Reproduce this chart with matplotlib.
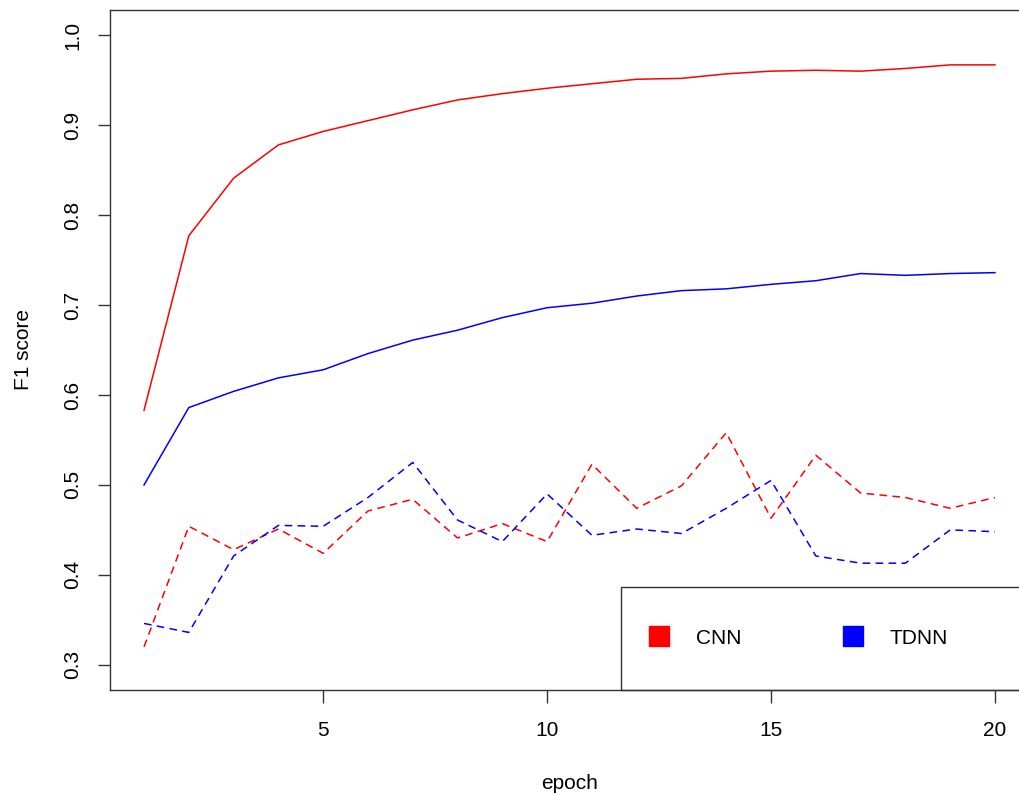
import matplotlib
matplotlib.use("Agg")
import matplotlib.pyplot as plt
from matplotlib.lines import Line2D
from matplotlib.patches import Rectangle

plt.rcParams['font.family'] = ['Liberation Sans', 'DejaVu Sans']

epochs = list(range(1, 21))
cnn_train = [0.583, 0.777, 0.841, 0.878, 0.893, 0.905, 0.917, 0.928, 0.935, 0.941,
             0.946, 0.951, 0.952, 0.957, 0.960, 0.961, 0.960, 0.963, 0.967, 0.967]
tdnn_train = [0.500, 0.586, 0.604, 0.619, 0.628, 0.646, 0.661, 0.672, 0.686, 0.697,
              0.702, 0.710, 0.716, 0.718, 0.723, 0.727, 0.735, 0.733, 0.735, 0.736]
cnn_test = [0.320, 0.454, 0.428, 0.451, 0.424, 0.471, 0.484, 0.441, 0.457, 0.437,
            0.523, 0.474, 0.499, 0.558, 0.463, 0.533, 0.491, 0.486, 0.474, 0.486]
tdnn_test = [0.346, 0.336, 0.421, 0.455, 0.454, 0.486, 0.525, 0.461, 0.437, 0.490,
             0.444, 0.451, 0.446, 0.474, 0.505, 0.421, 0.413, 0.413, 0.450, 0.448]
legend_labels = ["CNN", "TDNN"]
colors = ["red", "blue"]
x_ticks = [5, 10, 15, 20]
y_ticks = [0.3, 0.4, 0.5, 0.6, 0.7, 0.8, 0.9, 1.0]

FS = 15
W, H = 1020, 795
fig = plt.figure(figsize=(W / 100, H / 100), dpi=100)
L, R, T, B = 110, 1029, 10, 690
ax = fig.add_axes([L / W, 1 - B / H, (R - L) / W, (B - T) / H])

dash = (5, 3.5)
ax.plot(epochs, cnn_train, color=colors[0], lw=1.1)
ax.plot(epochs, tdnn_train, color=colors[1], lw=1.1)
ax.plot(epochs, cnn_test, color=colors[0], lw=1.1, linestyle=(0, dash))
ax.plot(epochs, tdnn_test, color=colors[1], lw=1.1, linestyle=(0, dash))

ax.set_xlim(0.24, 20.76)
ax.set_ylim(0.272, 1.028)
ax.set_xticks(x_ticks)
ax.set_xticklabels([str(t) for t in x_ticks])
ax.set_yticks(y_ticks)
ax.set_yticklabels([f"{t:.1f}" for t in y_ticks], rotation=90, va='center')
ax.tick_params(axis='both', direction='out', length=9, width=1, color='#333333',
               labelsize=FS)
ax.tick_params(axis='x', pad=13)
ax.tick_params(axis='y', pad=11)
for s in ax.spines.values():
    s.set_color('#333333')
    s.set_linewidth(1.0)

ax.set_xlabel("epoch", fontsize=FS, labelpad=25)
ax.set_ylabel("F1 score", fontsize=FS, labelpad=22)

# legend frame
lx0 = (621 - L) / (R - L)
ly1 = (B - 587) / (B - T)
ax.add_patch(Rectangle((lx0, 0), 1.0, ly1, transform=ax.transAxes, fill=False,
                       edgecolor='#333333', lw=1.0, clip_on=False, zorder=5))
handles = [Line2D([], [], linestyle='none', marker='s', markersize=14.5,
                  markerfacecolor=c, markeredgecolor=c) for c in colors]
ax.legend(handles, legend_labels, ncol=2, frameon=False, fontsize=FS,
          loc='center left', bbox_to_anchor=((649 - L) / (R - L), (B - 638) / (B - T)),
          borderpad=0, handlelength=1.0, handletextpad=1.25, columnspacing=4.85,
          borderaxespad=0)

fig.savefig("out.png", dpi=100)
